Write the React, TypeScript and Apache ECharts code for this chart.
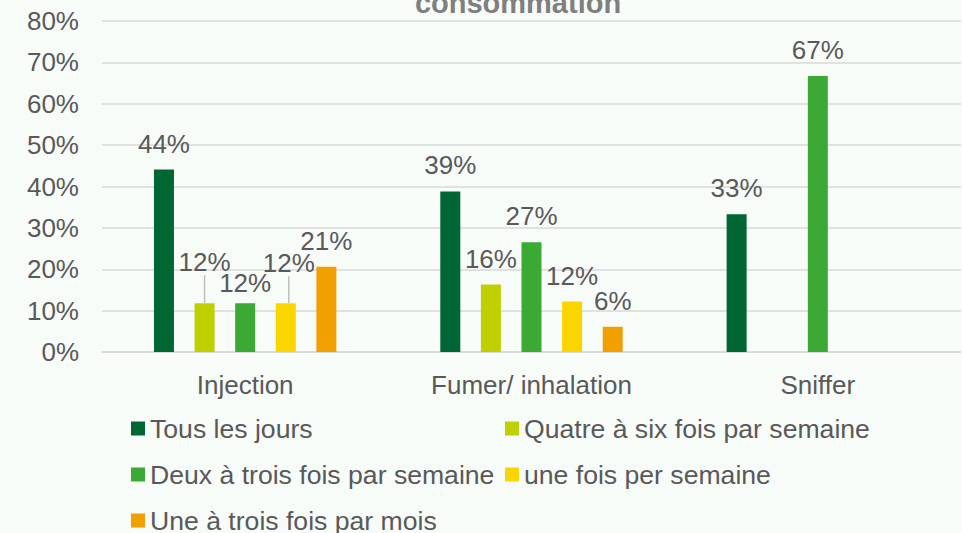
import React, { useEffect, useRef } from "react";
import * as echarts from "echarts";

const titleText = "consommation";
const categories = ["Injection", "Fumer/ inhalation", "Sniffer"];
const seriesNames = [
  "Tous les jours",
  "Quatre à six fois par semaine",
  "Deux à trois fois par semaine",
  "une fois per semaine",
  "Une à trois fois par mois",
];
const tousLesJours = [44.1, 38.8, 33.3];
const quatreASix = [11.8, 16.3, null];
const deuxATrois = [11.8, 26.5, 66.7];
const uneFoisSemaine = [11.8, 12.2, null];
const uneATroisMois = [20.6, 6.1, null];
const seriesValues = [tousLesJours, quatreASix, deuxATrois, uneFoisSemaine, uneATroisMois];
const colors = ["#006633", "#BFD000", "#3BAA35", "#FAD500", "#F29F00"];

// label nudges (seriesIndex-dataIndex)
const labelNudges: Record<string, { dx?: number; dy?: number; line?: boolean }> = {
  "1-0": { dy: -15, line: true },
  "2-0": { dy: 6 },
  "3-0": { dx: 3, dy: -14, line: true },
};

const legendPos = [
  { left: 131, top: 415 },
  { left: 505, top: 415 },
  { left: 131, top: 461 },
  { left: 505, top: 461 },
  { left: 131, top: 507 },
];

const FONT = "'Liberation Sans', Arial, sans-serif";
const TEXT = "#595959";

export default function App() {
  const ref = useRef<HTMLDivElement>(null);
  useEffect(() => {
    if (!ref.current) return;
    const chart = echarts.init(ref.current, undefined, { renderer: "svg" });
    const series = seriesNames.map((name, si) => ({
      name,
      type: "bar",
      barWidth: 20,
      barGap: "103%",
      itemStyle: { color: colors[si] },
      label: {
        show: true,
        position: "top",
        distance: 13,
        fontSize: 26,
        fontFamily: FONT,
        color: TEXT,
        formatter: (p: any) => (p.value == null ? "" : Math.round(p.value) + "%"),
      },
      labelLayout: (p: any) => {
        const n = labelNudges[si + "-" + p.dataIndex];
        return n ? { dx: n.dx || 0, dy: n.dy || 0 } : {};
      },
      data: seriesValues[si].map((v, di) => {
        const n = labelNudges[si + "-" + di];
        if (n && n.line) {
          return {
            value: v,
            labelLine: { show: true, lineStyle: { color: "#BFBFBF", width: 1.5 } },
          };
        }
        return v;
      }),
    }));
    chart.setOption({
      animation: false,
      backgroundColor: "#F7FCF9",
      textStyle: { fontFamily: FONT },
      title: {
        text: titleText,
        left: 518,
        textAlign: "center",
        top: -12,
        padding: 0,
        textStyle: { fontSize: 29, fontWeight: "bold", color: "#7F7F7F", fontFamily: FONT },
      },
      legend: seriesNames.map((name, i) => ({
        data: [name],
        left: legendPos[i].left,
        top: legendPos[i].top,
        padding: 0,
        icon: "rect",
        itemWidth: 14,
        itemHeight: 14,
        selectedMode: false,
        textStyle: { fontSize: 26.6, color: TEXT, fontFamily: FONT },
      })),
      grid: { left: 102, right: 1, top: 21, bottom: 181, containLabel: false },
      xAxis: {
        type: "category",
        data: categories,
        axisLine: { show: true, lineStyle: { color: "#D9D9D9", width: 1.5 } },
        axisTick: { show: false },
        axisLabel: { fontSize: 26, color: TEXT, margin: 20, fontFamily: FONT },
      },
      yAxis: {
        type: "value",
        min: 0,
        max: 80,
        interval: 10,
        axisLine: { show: false },
        axisTick: { show: false },
        axisLabel: { formatter: "{value}%", fontSize: 26, color: TEXT, margin: 23, fontFamily: FONT },
        splitLine: { lineStyle: { color: "#D9D9D9", width: 1.5 } },
      },
      series,
    });
    return () => chart.dispose();
  }, []);
  return (
    <div
      ref={ref}
      style={{ position: "fixed", left: 0, top: 0, width: 962, height: 533 }}
    />
  );
}
